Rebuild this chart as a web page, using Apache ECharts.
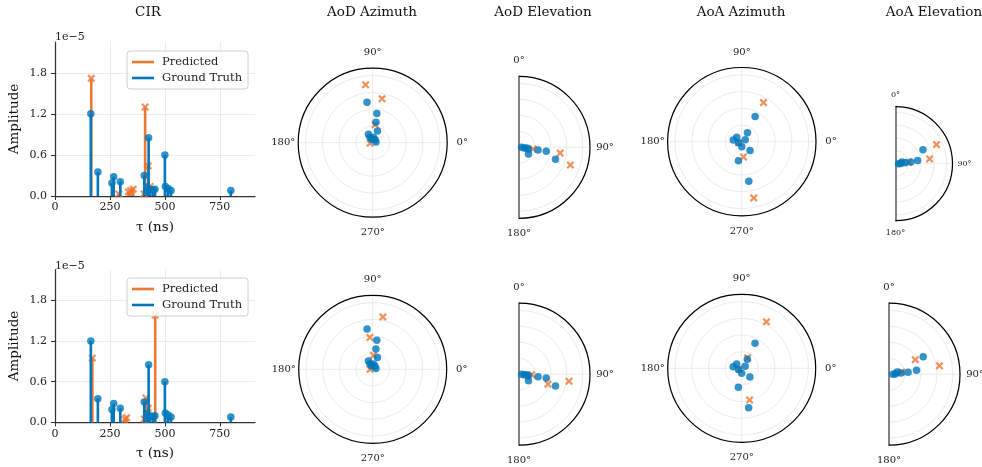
<!DOCTYPE html>
<html><head><meta charset="utf-8">
<script src="https://cdn.jsdelivr.net/npm/echarts@6/dist/echarts.min.js"></script>
<style>html,body{margin:0;padding:0;background:#fff}#c{width:982px;height:467px}</style>
</head><body><div id="c"></div>
<script>
// ================= DATA =================
const panelTitles = ['CIR', 'AoD Azimuth', 'AoD Elevation', 'AoA Azimuth', 'AoA Elevation'];
const legendNames = ['Predicted', 'Ground Truth'];
const delayTickStep = 250;      // ns
const ampTickStep = 0.6;        // ×1e-5
const ampExponentText = '1e\u22125';

// CIR ground truth (same in both rows): delay (ns), amplitude (×1e-5)
const gtDelay = [163, 195, 259, 267, 297, 406, 418, 426, 432, 445, 455, 500, 502, 515, 528, 800];
const gtAmp   = [1.20, 0.35, 0.19, 0.28, 0.21, 0.30, 0.13, 0.85, 0.10, 0.09, 0.10, 0.60, 0.14, 0.11, 0.08, 0.08];
// CIR predictions
const predDelayTop = [165, 290, 334, 344, 356, 405, 410, 424, 433];
const predAmpTop   = [1.72, 0.03, 0.06, 0.08, 0.10, 0.03, 1.30, 0.44, 0.14];
const predDelayBot = [170, 318, 326, 406, 414, 424, 456];
const predAmpBot   = [0.95, 0.05, 0.07, 0.05, 0.36, 0.21, 1.58];

// Polar panels: [radius, angle in degrees]
const gtAodAz = [[0.61, 98], [0.44, 82], [0.31, 81], [0.19, 68], [0.14, 117], [0.09, 117], [0.08, 83], [0.06, 55], [0.05, 13], [0.05, 107]];
const gtAodEl = [[0.04, 90], [0.08, 97], [0.12, 95], [0.15, 100], [0.18, 125], [0.30, 98], [0.43, 98], [0.60, 108]];
const gtAoaAz = [[0.425, 62], [0.16, 58], [0.18, 313], [0.29, 260], [0.60, 280], [0.13, 169], [0.10, 139], [0.075, 270], [0.06, 30], [0.05, 200]];
const gtAoaEl = [[0.60, 63], [0.435, 82], [0.30, 84], [0.19, 84], [0.13, 75], [0.10, 88], [0.06, 90]];

const predAodAzTop = [[0.87, 97], [0.67, 78], [0.27, 82], [0.04, 190]];
const predAodElTop = [[0.65, 98], [0.85, 109], [0.22, 97]];
const predAoaAzTop = [[0.67, 61], [0.23, 276], [0.86, 282], [0.05, 200]];
const predAoaElTop = [[0.88, 65], [0.67, 82], [0.26, 84]];

const predAodAzBot = [[0.80, 79], [0.48, 95], [0.21, 87], [0.04, 180]];
const predAodElBot = [[0.48, 109], [0.79, 98], [0.20, 92]];
const predAoaAzBot = [[0.79, 62], [0.49, 284], [0.18, 61], [0.04, 200]];
const predAoaElBot = [[0.80, 80.5], [0.47, 61], [0.20, 80]];

// ================= STYLE =================
const F = 'DejaVu Serif';
const ORANGE = '#EE7733', BLUE = '#0077BB';
const SPINE = '#333333', GRID = '#e6e6e6', TXT = '#222222';
const XSYM = 'path://M2,0 L5,3 L8,0 L10,2 L7,5 L10,8 L8,10 L5,7 L2,10 L0,8 L3,5 L0,2 Z';

const chart = echarts.init(document.getElementById('c'), null, {renderer: 'canvas'});

const zip = (a, b) => a.map((v, i) => [v, b[i]]);

function stemRender(color) {
  return function (params, api) {
    const p0 = api.coord([api.value(0), 0]);
    const p1 = api.coord([api.value(0), api.value(1)]);
    return {type: 'line', shape: {x1: p0[0], y1: p0[1], x2: p1[0], y2: p1[1]},
      style: {stroke: color, lineWidth: 2.6}};
  };
}

const cirGrids = [
  {left: 55, top: 42, width: 200, height: 154},
  {left: 55, top: 269.5, width: 200, height: 153}
];
const cirPred = [[predDelayTop, predAmpTop], [predDelayBot, predAmpBot]];

const option = {
  animation: false,
  grid: cirGrids,
  xAxis: [], yAxis: [], polar: [], angleAxis: [], radiusAxis: [], series: [], legend: [], graphic: []
};

cirGrids.forEach((g, i) => {
  option.xAxis.push({
    gridIndex: i, type: 'value', min: 0, max: 910, interval: delayTickStep,
    name: '\u03C4 (ns)', nameLocation: 'middle', nameGap: 24,
    nameTextStyle: {fontFamily: F, fontSize: 13.5, color: '#111'},
    axisLine: {show: true, onZero: false, lineStyle: {color: SPINE, width: 1.25}},
    axisTick: {show: true, inside: false, length: 4, lineStyle: {color: SPINE, width: 1}},
    axisLabel: {fontFamily: F, fontSize: 11, color: TXT, margin: 6, showMaxLabel: false},
    splitLine: {show: true, showMaxLine: false, lineStyle: {color: GRID, width: 0.8}}
  });
  option.yAxis.push({
    gridIndex: i, type: 'value', min: 0, max: 2.25, interval: ampTickStep,
    name: 'Amplitude', nameLocation: 'middle', nameGap: 34, nameRotate: 90,
    nameTextStyle: {fontFamily: F, fontSize: 13.5, color: '#111'},
    axisLine: {show: true, lineStyle: {color: SPINE, width: 1.25}},
    axisTick: {show: true, inside: false, length: 4, lineStyle: {color: SPINE, width: 1}},
    axisLabel: {fontFamily: F, fontSize: 11, color: TXT, margin: 8, showMaxLabel: false,
      formatter: v => v.toFixed(1)},
    splitLine: {show: true, showMaxLine: false, lineStyle: {color: GRID, width: 0.8}}
  });
  const [pd, pa] = cirPred[i];
  option.series.push(
    {type: 'custom', name: 'Predicted', xAxisIndex: i, yAxisIndex: i, data: zip(pd, pa),
      renderItem: stemRender(ORANGE), itemStyle: {color: ORANGE}, z: 2, silent: true},
    {type: 'scatter', name: 'Predicted', xAxisIndex: i, yAxisIndex: i, data: zip(pd, pa),
      symbol: XSYM, symbolSize: 8, itemStyle: {color: ORANGE}, z: 3, silent: true},
    {type: 'custom', name: 'Ground Truth', xAxisIndex: i, yAxisIndex: i, data: zip(gtDelay, gtAmp),
      renderItem: stemRender(BLUE), itemStyle: {color: BLUE}, z: 4, silent: true},
    {type: 'scatter', name: 'Ground Truth', xAxisIndex: i, yAxisIndex: i, data: zip(gtDelay, gtAmp),
      symbol: 'circle', symbolSize: 7.5, itemStyle: {color: BLUE}, z: 5, silent: true}
  );
  option.legend.push({
    orient: 'vertical', left: 127, top: i === 0 ? 51 : 278, selectedMode: false,
    data: legendNames.map(n => ({name: n, icon: 'rect'})),
    itemWidth: 22, itemHeight: 2.6, itemGap: 4,
    padding: [5, 6, 5, 5], borderColor: '#d0d0d0', borderWidth: 1, borderRadius: 3,
    backgroundColor: 'rgba(255,255,255,0.85)',
    textStyle: {fontFamily: F, fontSize: 11.5, color: TXT, padding: [0, 0, 0, 3]}
  });
  option.graphic.push({type: 'text', x: 55, y: i === 0 ? 37 : 266,
    style: {text: ampExponentText, font: '11px "DejaVu Serif"', fill: TXT, align: 'left', verticalAlign: 'middle'}});
});

// polar panels
const polarPanels = [
  {c: [372.7, 142.7], r: 74.5, full: true, gt: gtAodAz, pred: predAodAzTop, fs: 10},
  {c: [519, 147.3], r: 71, full: false, gt: gtAodEl, pred: predAodElTop, fs: 10},
  {c: [741.8, 141.7], r: 74.2, full: true, gt: gtAoaAz, pred: predAoaAzTop, fs: 10},
  {c: [895.5, 163.7], r: 57, full: false, gt: gtAoaEl, pred: predAoaElTop, fs: 8},
  {c: [372.7, 369.3], r: 74, full: true, gt: gtAodAz, pred: predAodAzBot, fs: 10},
  {c: [519, 374.2], r: 71, full: false, gt: gtAodEl, pred: predAodElBot, fs: 10},
  {c: [741.7, 368.3], r: 74, full: true, gt: gtAoaAz, pred: predAoaAzBot, fs: 10},
  {c: [889, 374.2], r: 71, full: false, gt: gtAoaEl, pred: predAoaElBot, fs: 10}
];

// rich styles emulating centred labels at a fixed radial distance beyond the rim
function labelRich(p) {
  const fs = p.fs;
  const D = fs === 8 ? 12 : 15;
  const vg = fs === 8 ? 8 : 10.5;
  const w = s => s.length * 0.636 * fs - 0.136 * fs;
  const base = {fontFamily: F, fontSize: fs, color: TXT};
  const rl = p.full ? '0°' : '90°';
  return {
    t: Object.assign({padding: [0, 0, vg, 0]}, base),
    b: Object.assign({padding: [vg, 0, 0, 0]}, base),
    r: Object.assign({padding: [0, 0, 0, Math.max(0, D - w(rl) / 2)]}, base),
    l: Object.assign({padding: [0, Math.max(0, D - w('180°') / 2), 0, 0]}, base)
  };
}
function labelFmt(p) {
  return v => {
    const s = v + '\u00B0';
    if (p.full) {
      if (v === 360) return '';
      const k = {0: 'r', 90: 't', 180: 'l', 270: 'b'}[v];
      return '{' + k + '|' + s + '}';
    }
    const k = {0: 't', 90: 'r', 180: 'b'}[v];
    return '{' + k + '|' + s + '}';
  };
}

polarPanels.forEach((p, i) => {
  option.polar.push({center: p.c, radius: p.r});
  option.angleAxis.push({
    polarIndex: i, type: 'value', min: 0, max: p.full ? 360 : 180, interval: 90,
    startAngle: p.full ? 0 : 90, endAngle: p.full ? 360 : -90, clockwise: !p.full,
    axisLine: {show: true, lineStyle: {color: '#000', width: 1.2}},
    axisTick: {show: false},
    axisLabel: {fontFamily: F, fontSize: p.fs, color: TXT, margin: 0,
      formatter: labelFmt(p), rich: labelRich(p)},
    splitLine: {show: true, lineStyle: {color: GRID, width: 0.8}}
  });
  option.radiusAxis.push({
    polarIndex: i, type: 'value', min: 0, max: 1.11, interval: 0.25,
    axisLine: {show: !p.full, lineStyle: {color: '#777', width: 1.8}},
    axisTick: {show: false}, axisLabel: {show: false},
    splitLine: {show: true, lineStyle: {color: GRID, width: 0.8}}
  });
  option.series.push(
    {type: 'scatter', name: 'Predicted', coordinateSystem: 'polar', polarIndex: i, data: p.pred,
      symbol: XSYM, symbolSize: 8, itemStyle: {color: ORANGE}, z: 3, silent: true},
    {type: 'scatter', name: 'Ground Truth', coordinateSystem: 'polar', polarIndex: i, data: p.gt,
      symbol: 'circle', symbolSize: 7.5, itemStyle: {color: BLUE}, z: 5, silent: true}
  );
});
// overlay polars: lower half of the left spine of the half-disc panels
polarPanels.forEach((p, i) => {
  if (p.full) return;
  const idx = option.polar.length;
  option.polar.push({center: p.c, radius: p.r});
  option.angleAxis.push({polarIndex: idx, type: 'value', min: 0, max: 180, startAngle: -90, endAngle: 90,
    clockwise: false, show: false});
  option.radiusAxis.push({polarIndex: idx, type: 'value', min: 0, max: 1.11,
    axisLine: {show: true, lineStyle: {color: '#777', width: 1.8}},
    axisTick: {show: false}, axisLabel: {show: false}, splitLine: {show: false}});
});

// titles
const titleX = [148, 372, 543, 741, 934];
panelTitles.forEach((t, i) => {
  option.graphic.push({type: 'text', x: titleX[i], y: 12,
    style: {text: t, font: '13.5px "DejaVu Serif"', fill: '#111', align: 'center', verticalAlign: 'middle'}});
});

chart.setOption(option);
</script></body></html>
